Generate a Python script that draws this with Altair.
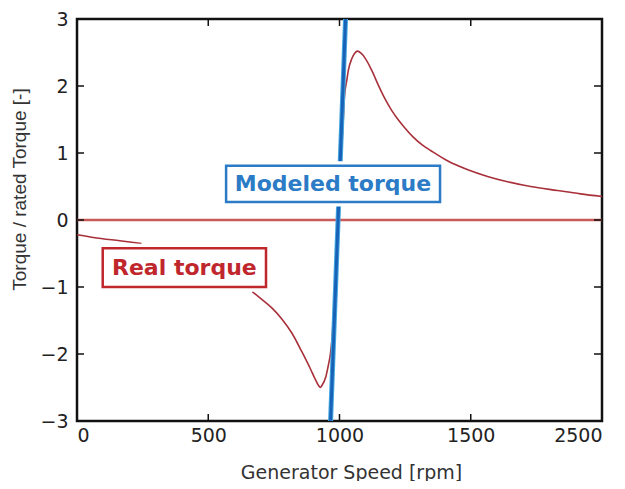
import altair as alt
import pandas as pd

# Real torque curve (two visible segments, hidden behind the label box in between)
real_seg1_x = [0, 62, 163, 246]
real_seg1_y = [-0.22, -0.26, -0.31, -0.35]
real_seg2_x = [668, 705, 744, 781, 819, 857, 889, 908, 920, 927, 933, 948, 958, 965, 971,
               985, 995, 1005, 1013, 1019, 1028, 1034, 1047, 1058, 1069, 1082, 1097, 1122,
               1147, 1173, 1198, 1223, 1250, 1280, 1315, 1350, 1413, 1489, 1564, 1640, 1728,
               1830, 1918, 2000]
real_seg2_y = [-1.07, -1.19, -1.32, -1.48, -1.69, -1.97, -2.22, -2.38, -2.47, -2.50, -2.47,
               -2.34, -2.16, -2.01, -1.79, -0.80, 0.0, 0.80, 1.40, 1.84, 2.09, 2.24, 2.41,
               2.49, 2.52, 2.49, 2.42, 2.24, 2.02, 1.81, 1.64, 1.50, 1.37, 1.24, 1.12, 1.03,
               0.88, 0.75, 0.65, 0.57, 0.50, 0.44, 0.39, 0.35]
# Modeled torque: steep straight line
model_x = [966, 1023]
model_y = [-3, 3]
zero_y = [0]

x_ticks = [0, 500, 1000, 1500, 2000]
y_ticks = [-3, -2, -1, 0, 1, 2, 3]
inner_x_ticks = [500, 1000, 1500]
inner_y_ticks = [-2, -1, 0, 1, 2]

# annotation boxes (data coordinates)
box_labels = ["Modeled torque", "Real torque"]
box_x1 = [568, 98]
box_x2 = [1383, 720]
box_y1 = [0.81, -0.42]
box_y2 = [0.27, -1.0]
box_tx = [975, 409]
box_ty = [0.54, -0.71]
box_colors = ["#2b7bc6", "#c0272d"]

W, H = 525, 402

real = pd.DataFrame({
    "x": real_seg1_x + real_seg2_x,
    "y": real_seg1_y + real_seg2_y,
    "seg": [1] * len(real_seg1_x) + [2] * len(real_seg2_x),
})
model = pd.DataFrame({"x": model_x, "y": model_y})
zero = pd.DataFrame({"y": zero_y})
boxes = pd.DataFrame({
    "label": box_labels, "x1": box_x1, "x2": box_x2, "y1": box_y1, "y2": box_y2,
    "tx": box_tx, "ty": box_ty, "color": box_colors,
})
xt = pd.DataFrame({"v": inner_x_ticks})
yt = pd.DataFrame({"v": inner_y_ticks})

xscale = alt.Scale(domain=[0, 2000], nice=False, zero=False)
yscale = alt.Scale(domain=[-3, 3], nice=False, zero=False)

xaxis = alt.Axis(
    values=x_ticks, format="d",
    labelExpr="datum.value == 2000 ? '2500' : datum.label",
    grid=False, ticks=False, domain=False, labelPadding=5,
    labelFont="DejaVu Sans", labelFontSize=19, labelColor="#222",
    title="Generator Speed [rpm]", titleFont="DejaVu Sans", titleFontSize=19,
    titleFontWeight="normal", titleColor="#333", titleX=274, titleY=51,
    titleBaseline="middle", titleAlign="center",
)
yaxis = alt.Axis(
    values=y_ticks, format="d", grid=False, ticks=False, domain=False, labelPadding=9,
    labelFont="DejaVu Sans", labelFontSize=19, labelColor="#222", labelBaseline="middle",
    title="Torque / rated Torque [-]", titleFont="Liberation Sans", titleFontSize=19,
    titleFontWeight="normal", titleColor="#333", titleX=-58, titleY=170, titleAngle=-90,
    titleBaseline="middle", titleAlign="center",
)

zero_line = alt.Chart(zero).mark_rule(color="#c85a5a", strokeWidth=2.4).encode(
    y=alt.Y("y:Q", scale=yscale, axis=yaxis)
)

real_line = alt.Chart(real).mark_line(
    color="#a8303a", strokeWidth=1.6, interpolate="monotone"
).encode(
    x=alt.X("x:Q", scale=xscale, axis=xaxis),
    y=alt.Y("y:Q", scale=yscale, axis=yaxis),
    detail="seg:N",
)

model_under = alt.Chart(model).mark_line(color="#45a8e0", strokeWidth=5, clip=True).encode(
    x=alt.X("x:Q", scale=xscale), y=alt.Y("y:Q", scale=yscale)
)
model_line = alt.Chart(model).mark_line(color="#1863b8", strokeWidth=3, clip=True).encode(
    x=alt.X("x:Q", scale=xscale), y=alt.Y("y:Q", scale=yscale)
)

halo = alt.Chart(boxes).mark_rect(fill="white", stroke="white", strokeWidth=9).encode(
    x=alt.X("x1:Q", scale=xscale), x2="x2:Q",
    y=alt.Y("y1:Q", scale=yscale), y2="y2:Q",
)
frame = alt.Chart(boxes).mark_rect(fill="white", strokeWidth=2.5).encode(
    x=alt.X("x1:Q", scale=xscale), x2="x2:Q",
    y=alt.Y("y1:Q", scale=yscale), y2="y2:Q",
    stroke=alt.Color("color:N", scale=None),
)
texts = alt.Chart(boxes).mark_text(
    font="DejaVu Sans", fontSize=22, fontWeight="bold", align="center", baseline="middle"
).encode(
    x=alt.X("tx:Q", scale=xscale), y=alt.Y("ty:Q", scale=yscale),
    text="label:N", color=alt.Color("color:N", scale=None),
)

tick_style = dict(color="#111", strokeWidth=1.5)
bt = alt.Chart(xt).mark_rule(**tick_style).encode(
    x=alt.X("v:Q", scale=xscale), y=alt.value(H), y2=alt.value(H - 7))
tt = alt.Chart(xt).mark_rule(**tick_style).encode(
    x=alt.X("v:Q", scale=xscale), y=alt.value(0), y2=alt.value(7))
lt = alt.Chart(yt).mark_rule(**tick_style).encode(
    y=alt.Y("v:Q", scale=yscale), x=alt.value(0), x2=alt.value(7))
rt = alt.Chart(yt).mark_rule(**tick_style).encode(
    y=alt.Y("v:Q", scale=yscale), x=alt.value(W), x2=alt.value(W - 8))

chart = alt.layer(
    zero_line, real_line, model_under, model_line, halo, frame, texts, bt, tt, lt, rt
).properties(
    width=W, height=H,
    autosize=alt.AutoSizeParams(type="none"),
    padding={"left": 69, "top": 11, "right": 15, "bottom": 60},
    background="white",
).configure_view(stroke="#111", strokeWidth=2.5)

chart.save("out.html", embed_options={"renderer": "svg", "actions": False})
